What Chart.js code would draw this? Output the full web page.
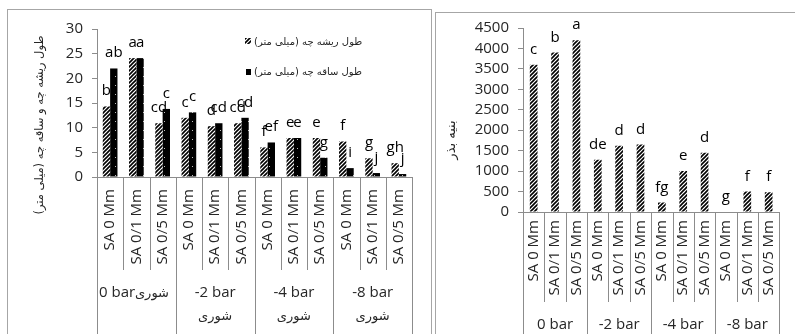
<!DOCTYPE html>
<html>
<head>
<meta charset="utf-8">
<script src="https://cdn.jsdelivr.net/npm/chart.js@4.4.1/dist/chart.umd.min.js"></script>
<style>
  html, body { margin: 0; padding: 0; background: #fff; }
  body { width: 795px; height: 334px; position: relative; overflow: hidden; }
  .panel { position: absolute; border: 1px solid #a6a6a6; border-bottom: none; box-sizing: border-box; }
  canvas { position: absolute; top: 0; }
</style>
</head>
<body>
<div class="panel" style="left:7px;top:9px;width:425px;height:340px;"></div>
<div class="panel" style="left:435px;top:12px;width:380px;height:340px;"></div>
<canvas id="lengthChart" width="432" height="334" style="left:0;"></canvas>
<canvas id="vigorChart" width="361" height="334" style="left:434px;"></canvas>
<script>
// Treatments: salicylic acid level within each salinity (osmotic) level
const categories = ['SA 0 Mm', 'SA 0/1 Mm', 'SA 0/5 Mm',
                    'SA 0 Mm', 'SA 0/1 Mm', 'SA 0/5 Mm',
                    'SA 0 Mm', 'SA 0/1 Mm', 'SA 0/5 Mm',
                    'SA 0 Mm', 'SA 0/1 Mm', 'SA 0/5 Mm'];
const groups = ['0 bar', '-2 bar', '-4 bar', '-8 bar'];
const salinityWord = 'شوری';

// Radicle and plumule length (mm)
const rootLength  = [14.3, 24.1, 10.9, 12.0, 10.3, 10.9, 6.0, 7.9, 7.9, 7.2, 3.8, 2.8];
const shootLength = [22.0, 24.1, 13.8, 13.1, 10.9, 12.0, 7.0, 7.9, 3.9, 1.8, 0.8, 0.6];
const rootLetters  = ['b', 'a', 'cd', 'c', 'd', 'cd', 'f', 'e', 'e', 'f', 'g', 'gh'];
const shootLetters = ['ab', 'a', 'c', 'c', 'cd', 'cd', 'ef', 'e', 'g', 'i', 'j', 'j'];
const lengthTicks = [0, 5, 10, 15, 20, 25, 30];

// Seed vigour index
const vigor = [3600, 3900, 4200, 1280, 1620, 1650, 230, 1000, 1450, 0, 500, 480];
const vigorLetters = ['c', 'b', 'a', 'de', 'd', 'd', 'fg', 'e', 'd', 'g', 'f', 'f'];
const vigorTicks = [0, 500, 1000, 1500, 2000, 2500, 3000, 3500, 4000, 4500];

const rootLabel = 'طول ریشه چه (میلی متر)';
const shootLabel = 'طول ساقه چه (میلی متر)';
const lengthAxisTitle = 'طول ریشه چه و ساقه چه (میلی متر)';
const vigorAxisTitle = 'بنیه بذر';

const LATIN = '"Open Sans", sans-serif';
const PERSIAN = '"DejaVu Sans", sans-serif';
const AXIS = '#8c8c8c';
const TEXT = '#262626';

function hatchPattern() {
  const c = document.createElement('canvas');
  c.width = 4; c.height = 4;
  const g = c.getContext('2d');
  g.fillStyle = '#fff'; g.fillRect(0, 0, 4, 4);
  g.strokeStyle = '#000'; g.lineWidth = 1.6;
  g.beginPath();
  g.moveTo(-1, 5); g.lineTo(5, -1);
  g.moveTo(-1, 1); g.lineTo(1, -1);
  g.moveTo(3, 5); g.lineTo(5, 3);
  g.stroke();
  return g.createPattern(c, 'repeat');
}

function dottedBlack() {
  const c = document.createElement('canvas');
  c.width = 7; c.height = 9;
  const g = c.getContext('2d');
  g.fillStyle = '#000'; g.fillRect(0, 0, 7, 9);
  g.fillStyle = 'rgba(255,255,255,0.75)'; g.fillRect(3, 4, 1, 1);
  return g.createPattern(c, 'repeat');
}

// Letters of mean separation above each bar
const letterPlugin = {
  id: 'letters',
  afterDatasetsDraw(chart, args, opts) {
    const ctx = chart.ctx;
    ctx.save();
    ctx.font = '15px ' + LATIN;
    ctx.fillStyle = '#000';
    ctx.textAlign = 'center';
    ctx.textBaseline = 'alphabetic';
    opts.sets.forEach((letters, di) => {
      chart.getDatasetMeta(di).data.forEach((bar, i) => {
        ctx.fillText(letters[i], bar.x, bar.y - opts.gap);
      });
    });
    ctx.restore();
  }
};

// Category dividers, salinity group labels and the rotated axis title
const framePlugin = {
  id: 'frame',
  afterDraw(chart, args, opts) {
    const ctx = chart.ctx;
    const xs = chart.scales.x;
    const area = chart.chartArea;
    const n = categories.length;
    const w = (xs.right - xs.left) / n;
    ctx.save();
    ctx.strokeStyle = AXIS;
    ctx.lineWidth = 1;
    for (let i = 0; i <= n; i++) {
      const x = Math.round(xs.left + i * w) + 0.5;
      ctx.beginPath();
      ctx.moveTo(x, area.bottom);
      ctx.lineTo(x, i % 3 === 0 ? chart.height : opts.innerEnd);
      ctx.stroke();
    }
    ctx.fillStyle = TEXT;
    ctx.textBaseline = 'middle';
    groups.forEach((g, gi) => {
      const cx = xs.left + (gi * 3 + 1.5) * w;
      if (opts.persian && gi === 0) {
        ctx.font = '15px ' + LATIN;
        ctx.textAlign = 'left';
        ctx.direction = 'ltr';
        ctx.fillText(g, xs.left + 2, opts.groupY);
        ctx.font = '13px ' + PERSIAN;
        ctx.textAlign = 'right';
        ctx.direction = 'rtl';
        ctx.fillText(salinityWord, xs.left + 72, opts.groupY + 1);
      } else {
        ctx.font = '15px ' + LATIN;
        ctx.textAlign = 'center';
        ctx.direction = 'ltr';
        ctx.fillText(g, cx, opts.groupY);
        if (opts.persian) {
          ctx.font = '13px ' + PERSIAN;
          ctx.direction = 'rtl';
          ctx.fillText(salinityWord, cx, opts.groupY + 24);
        }
      }
    });
    ctx.direction = 'rtl';
    ctx.font = opts.titleFont + 'px ' + PERSIAN;
    ctx.textAlign = 'center';
    ctx.translate(opts.titleX, opts.titleY);
    ctx.rotate(-Math.PI / 2);
    ctx.fillText(opts.title, 0, 0);
    ctx.restore();
  }
};

// Legend of the length chart
const legendPlugin = {
  id: 'lenLegend',
  afterDraw(chart) {
    const ctx = chart.ctx;
    ctx.save();
    ctx.fillStyle = hatchPattern();
    ctx.fillRect(245, 38, 6, 6);
    ctx.fillStyle = '#000';
    ctx.fillRect(246, 69, 5, 6);
    ctx.font = '10px ' + PERSIAN;
    ctx.direction = 'rtl';
    ctx.textAlign = 'left';
    ctx.textBaseline = 'middle';
    ctx.fillStyle = TEXT;
    ctx.fillText(rootLabel, 254, 42);
    ctx.fillText(shootLabel, 254, 72);
    ctx.restore();
  }
};

function xAxis(height, pad) {
  return {
    type: 'category',
    offset: true,
    grid: { display: false, drawTicks: false },
    border: { display: true, color: AXIS },
    ticks: {
      autoSkip: false, minRotation: 90, maxRotation: 90, padding: pad,
      color: TEXT, font: { family: LATIN, size: 15 }
    },
    afterFit(s) { s.height = height; }
  };
}

function yAxis(width, max, step, ticks) {
  return {
    min: 0, max: max,
    grid: { drawOnChartArea: false, drawTicks: true, tickLength: 5, color: AXIS },
    border: { display: true, color: AXIS },
    ticks: {
      stepSize: step, autoSkip: false, padding: 9, color: TEXT,
      font: { family: LATIN, size: 15 },
      callback: (v) => ticks.includes(v) ? String(v) : ''
    },
    afterFit(s) { s.width = width; }
  };
}

new Chart(document.getElementById('lengthChart'), {
  type: 'bar',
  data: {
    labels: categories,
    datasets: [
      { label: rootLabel, data: rootLength, backgroundColor: hatchPattern(),
        borderWidth: 0, barPercentage: 1, categoryPercentage: 0.56 },
      { label: shootLabel, data: shootLength, backgroundColor: dottedBlack(),
        borderWidth: 0, barPercentage: 1, categoryPercentage: 0.56 }
    ]
  },
  options: {
    responsive: false, animation: false, devicePixelRatio: 1,
    layout: { padding: { left: 0, right: 20, top: 29, bottom: 0 } },
    scales: { x: xAxis(157, 12), y: yAxis(97, 30, 5, lengthTicks) },
    plugins: {
      legend: { display: false }, tooltip: { enabled: false },
      letters: { sets: [rootLetters, shootLetters], gap: 11 },
      frame: { innerEnd: 270, groupY: 293, persian: true,
               title: lengthAxisTitle, titleX: 40, titleY: 125, titleFont: 11.5 }
    }
  },
  plugins: [letterPlugin, framePlugin, legendPlugin]
});

new Chart(document.getElementById('vigorChart'), {
  type: 'bar',
  data: {
    labels: categories,
    datasets: [
      { label: vigorAxisTitle, data: vigor, backgroundColor: hatchPattern(),
        borderWidth: 0, barPercentage: 1, categoryPercentage: 0.36 }
    ]
  },
  options: {
    responsive: false, animation: false, devicePixelRatio: 1,
    layout: { padding: { left: 0, right: 8, top: 28, bottom: 0 } },
    scales: { x: xAxis(122, 8), y: yAxis(89, 4500, 500, vigorTicks) },
    plugins: {
      legend: { display: false }, tooltip: { enabled: false },
      letters: { sets: [vigorLetters], gap: 11 },
      frame: { innerEnd: 302, groupY: 325, persian: false,
               title: vigorAxisTitle, titleX: 18, titleY: 140, titleFont: 13 }
    }
  },
  plugins: [letterPlugin, framePlugin]
});
</script>
</body>
</html>
